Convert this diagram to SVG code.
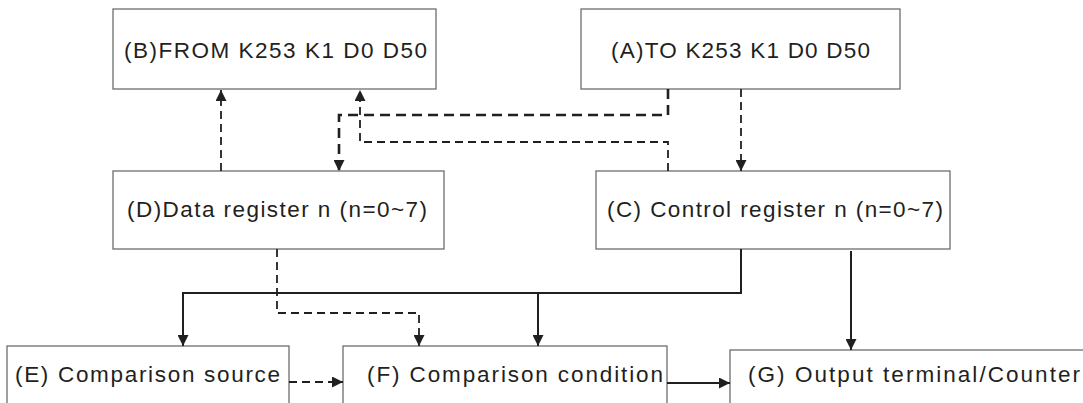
<svg xmlns="http://www.w3.org/2000/svg" width="1083" height="403" viewBox="0 0 1083 403">
<style>
.box{fill:#fff;stroke:#6d6e71;stroke-width:1.3}
.t{font-family:"Liberation Sans",Arial,sans-serif;font-size:22.5px;fill:#231f20}
.c{fill:none;stroke:#231f20;stroke-width:2}
.d{fill:none;stroke:#231f20;stroke-width:1.8;stroke-dasharray:8 5}
.dk{fill:none;stroke:#231f20;stroke-width:2.6;stroke-dasharray:10 6}
</style>
<defs>
<marker id="ah" viewBox="0 0 12 12" refX="12" refY="6" markerWidth="12" markerHeight="11" markerUnits="userSpaceOnUse" orient="auto">
<path d="M0,0 L12,6 L0,12 z" fill="#231f20"/>
</marker>
</defs>
<rect width="1083" height="403" fill="#fff"/>
<g id="B"><rect class="box" x="113" y="9" width="323" height="80"/><text class="t" x="124" y="58" textLength="303" lengthAdjust="spacing">(B)FROM K253 K1 D0 D50</text></g>
<g id="A"><rect class="box" x="581" y="9" width="319" height="80"/><text class="t" x="611" y="58" textLength="259" lengthAdjust="spacing">(A)TO K253 K1 D0 D50</text></g>
<g id="D"><rect class="box" x="113" y="171" width="331" height="78"/><text class="t" x="127" y="217" textLength="300" lengthAdjust="spacing">(D)Data register n (n=0~7)</text></g>
<g id="C"><rect class="box" x="596" y="171" width="354" height="78"/><text class="t" x="607" y="217" textLength="336" lengthAdjust="spacing">(C) Control register n (n=0~7)</text></g>
<g id="E"><rect class="box" x="7" y="346" width="282" height="70"/><text class="t" x="15" y="382" textLength="265" lengthAdjust="spacing">(E) Comparison source</text></g>
<g id="F"><rect class="box" x="343" y="346" width="324" height="70"/><text class="t" x="367" y="382" textLength="296" lengthAdjust="spacing">(F) Comparison condition</text></g>
<g id="G"><rect class="box" x="730" y="350" width="370" height="70"/><text class="t" x="748" y="382" textLength="332" lengthAdjust="spacing">(G) Output terminal/Counter</text></g>
<g id="connectors">
<path class="d" d="M221,171 V90" marker-end="url(#ah)"/>
<path class="d" d="M668,171 V142 H360 V90" marker-end="url(#ah)"/>
<path class="dk" d="M668,89 V115 H339 V171" marker-end="url(#ah)"/>
<path class="d" d="M741,89 V171" marker-end="url(#ah)"/>
<path class="c" d="M741,249 V293 H183 V346" marker-end="url(#ah)"/>
<path class="c" d="M538,293 V346" marker-end="url(#ah)"/>
<path class="c" d="M851,251 V350" marker-end="url(#ah)"/>
<path class="d" d="M277,249 V313 H419 V346" marker-end="url(#ah)"/>
<path class="d" d="M289,382 H343" marker-end="url(#ah)"/>
<path class="c" d="M667,383 H730" marker-end="url(#ah)"/>
</g>
</svg>
